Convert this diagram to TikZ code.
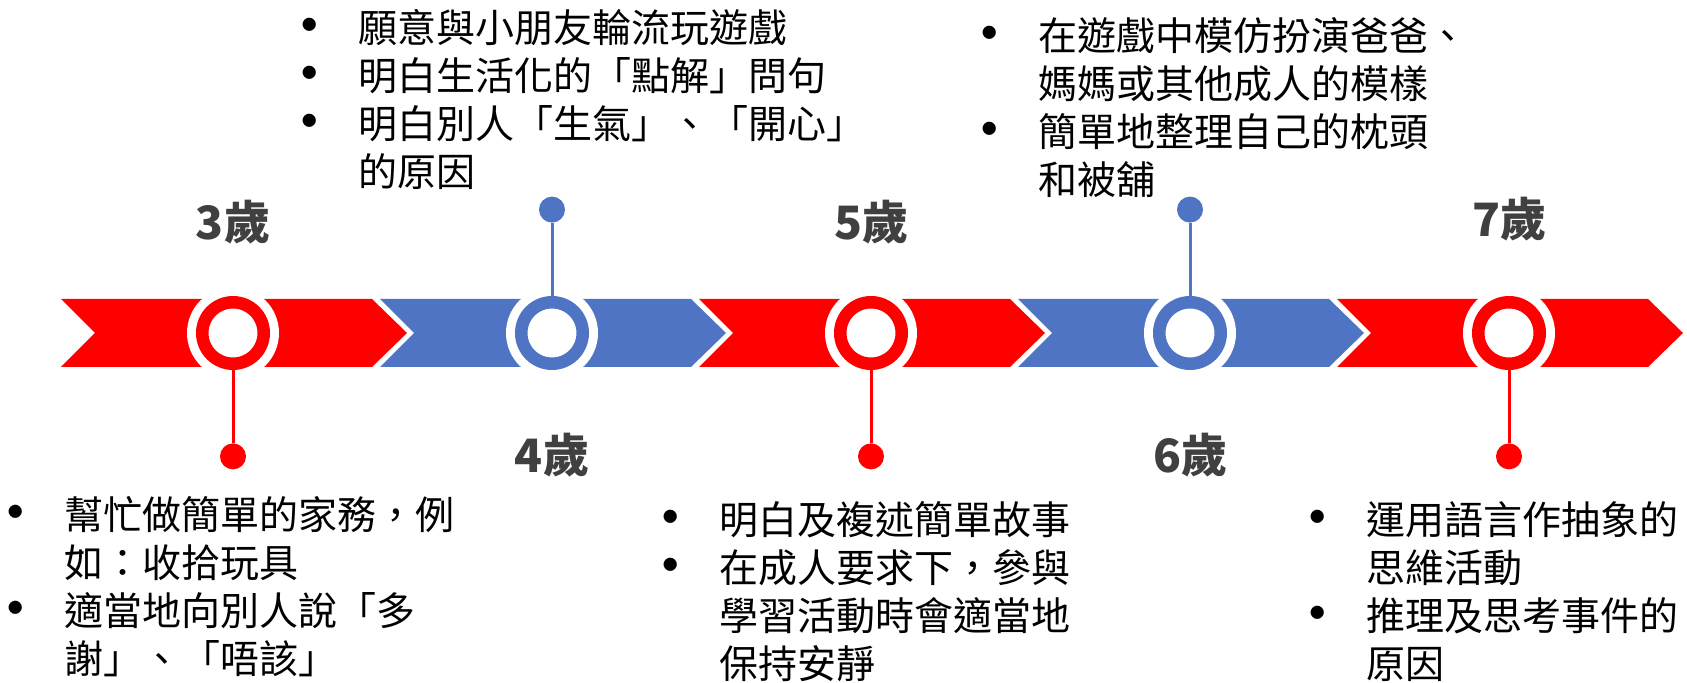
\documentclass[tikz,border=0pt]{standalone}
\usepackage{fontspec}
\setmainfont{Noto Sans CJK TC}
\usetikzlibrary{positioning}

\newcommand{\bul}{\makebox[24.5pt][l]{\makebox[0pt]{\raisebox{-0.14em}{\scalebox{1.6}{•}}}}}
\newcommand{\contind}{\hspace*{24.5pt}}

\begin{document}
\begin{tikzpicture}[x=0.5pt,y=-0.5pt]
    \colorlet{rex}{red}
    \definecolor{blx}{RGB}{80,116,196}
    \definecolor{agex}{RGB}{64,64,64}

    \useasboundingbox (0,0) rectangle (1687,683);
    \fill[white] (0,0) rectangle (1687,683);

    \fill[rex] (61,299)   -- ++(311,0) -- ++(35,34) -- ++(-35,34) -- ++(-311,0) -- ++(34,-34) -- cycle;
    \fill[blx] (380,299)  -- ++(311,0) -- ++(35,34) -- ++(-35,34) -- ++(-311,0) -- ++(34,-34) -- cycle;
    \fill[rex] (699,299)  -- ++(311,0) -- ++(35,34) -- ++(-35,34) -- ++(-311,0) -- ++(34,-34) -- cycle;
    \fill[blx] (1018,299) -- ++(311,0) -- ++(35,34) -- ++(-35,34) -- ++(-311,0) -- ++(34,-34) -- cycle;
    \fill[rex] (1337,299) -- ++(311,0) -- ++(35,34) -- ++(-35,34) -- ++(-311,0) -- ++(34,-34) -- cycle;

    \fill[white] (233,333)  circle (46);
    \fill[white] (552,333)  circle (46);
    \fill[white] (871,333)  circle (46);
    \fill[white] (1190,333) circle (46);
    \fill[white] (1509,333) circle (46);

    \begin{scope}[
        every node/.style={circle,fill=white,line width=6.25pt,minimum size=30.75pt,inner sep=0pt}
    ]
        \node (c1) [draw=rex] at (233,333)  {};
        \node (c2) [draw=blx] at (552,333)  {};
        \node (c3) [draw=rex] at (871,333)  {};
        \node (c4) [draw=blx] at (1190,333) {};
        \node (c5) [draw=rex] at (1509,333) {};
    \end{scope}

    \begin{scope}[
        node distance=36.5pt,
        every node/.style={circle,inner sep=0pt,minimum size=13pt}
    ]
        \node (d1) [below=of c1,fill=rex] {};
        \node (d2) [above=of c2,fill=blx] {};
        \node (d3) [below=of c3,fill=rex] {};
        \node (d4) [above=of c4,fill=blx] {};
        \node (d5) [below=of c5,fill=rex] {};
    \end{scope}
    \draw[rex,line width=1.5pt] (c1) -- (d1);
    \draw[blx,line width=1.5pt] (c2) -- (d2);
    \draw[rex,line width=1.5pt] (c3) -- (d3);
    \draw[blx,line width=1.5pt] (c4) -- (d4);
    \draw[rex,line width=1.5pt] (c5) -- (d5);

    \begin{scope}[
        every node/.style={anchor=base,inner sep=0pt,text=agex,font=\fontsize{23}{28}\selectfont\bfseries}
    ]
        \node (a3) at (233,240)  {3歲};
        \node (a4) at (552,473)  {4歲};
        \node (a5) at (871,240)  {5歲};
        \node (a6) at (1190,473) {6歲};
        \node (a7) at (1509,237) {7歲};
    \end{scope}

    \begin{scope}[
        every node/.style={anchor=base west,inner sep=0pt,font=\fontsize{19.5}{24}\selectfont}
    ]
        \node (t3) at (15,530) {\parbox[t]{300pt}{%
            \bul 幫忙做簡單的家務，例\\
            \contind 如：收拾玩具\\
            \bul 適當地向別人說「多\\
            \contind 謝」、「唔該」}};
        \node (t4) at (309,43) {\parbox[t]{300pt}{%
            \bul 願意與小朋友輪流玩遊戲\\
            \bul 明白生活化的「點解」問句\\
            \bul 明白別人「生氣」、「開心」\\
            \contind 的原因}};
        \node (t5) at (670,535) {\parbox[t]{300pt}{%
            \bul 明白及複述簡單故事\\
            \bul 在成人要求下，參與\\
            \contind 學習活動時會適當地\\
            \contind 保持安靜}};
        \node (t6) at (989,51) {\parbox[t]{300pt}{%
            \bul 在遊戲中模仿扮演爸爸、\\
            \contind 媽媽或其他成人的模樣\\
            \bul 簡單地整理自己的枕頭\\
            \contind 和被舖}};
        \node (t7) at (1317,535) {\parbox[t]{200pt}{%
            \bul 運用語言作抽象的\\
            \contind 思維活動\\
            \bul 推理及思考事件的\\
            \contind 原因}};
    \end{scope}
\end{tikzpicture}
\end{document}
